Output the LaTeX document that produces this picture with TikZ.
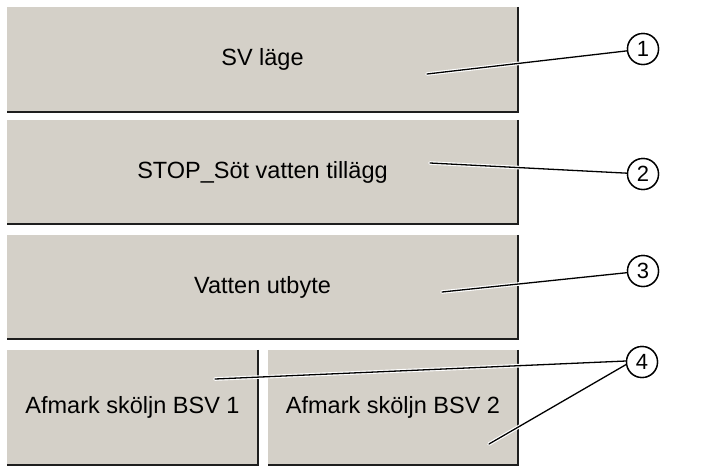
\documentclass[tikz,border=0pt]{standalone}
\usepackage{fontspec}
\setmainfont{Liberation Sans}
\definecolor{btnface}{HTML}{D4D0C8}
\definecolor{btnedge}{HTML}{1E1E1E}
\begin{document}
\begin{tikzpicture}[x=1pt,y=-1pt,
  box/.style={fill=btnface,draw=none,inner sep=0pt,font=\fontsize{23.5}{28}\selectfont},
  shade/.style={draw=btnedge,line width=2pt},
  callhalo/.style={draw=white,line width=3.6pt,line cap=round},
  callline/.style={draw=black,line width=1.3pt,line cap=round},
  num/.style={circle,draw=black,fill=white,line width=1.4pt,minimum size=31pt,inner sep=0pt,font=\fontsize{22}{24}\selectfont}]
\useasboundingbox (0,0) rectangle (710,475);
% boxes
\node[box,minimum width=511pt,minimum height=105pt] (b1) at (262.5,59.5) {SV läge};
\node[box,minimum width=511pt,minimum height=104pt] (b2) at (262.5,172) {STOP\_Söt vatten tillägg};
\node[box,minimum width=511pt,minimum height=104pt] (b3) at (262.5,287) {Vatten utbyte};
\node[box,minimum width=251pt,minimum height=115pt] (b4) at (132.5,407.5) {Afmark sköljn BSV 1};
\node[box,minimum width=250pt,minimum height=115pt] (b5) at (393,407.5) {Afmark sköljn BSV 2};
\foreach \b in {b1,b2,b3,b4,b5}{
  \draw[shade] (\b.north east) -- (\b.south east) -- (\b.south west);
}
% callout circles
\node[num] (c1) at (643,49) {1};
\node[num] (c2) at (643,174) {2};
\node[num] (c3) at (643,271) {3};
\node[num] (c4) at (642,362) {4};
% callout start points
\coordinate (p1) at (427,74);
\coordinate (p2) at (430,163);
\coordinate (p3) at (442,292);
\coordinate (p4) at (215,379);
\coordinate (p5) at (489,444);
\coordinate (q4) at (626,361);
\coordinate (q5) at (627,364);
% lines
\foreach \a/\b in {p1/c1,p2/c2,p3/c3}{
  \draw[callhalo] (\a) -- (\b);
}
\draw[callhalo] (p4) -- (q4);
\draw[callhalo] (p5) -- (q5);
\foreach \a/\b in {p1/c1,p2/c2,p3/c3}{
  \draw[callline] (\a) -- (\b);
}
\draw[callline] (p4) -- (q4);
\draw[callline] (p5) -- (q5);
% redraw circles on top
\node[num] at (c1) {1};
\node[num] at (c2) {2};
\node[num] at (c3) {3};
\node[num] at (c4) {4};
\end{tikzpicture}
\end{document}
